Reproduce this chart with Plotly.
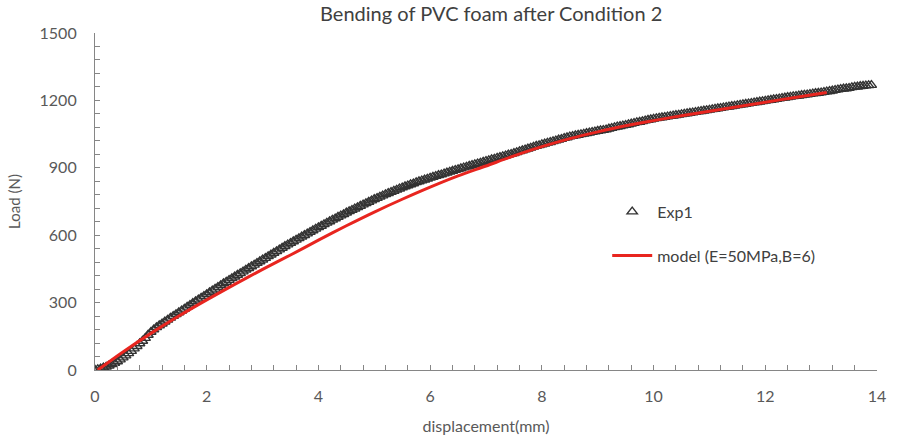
import plotly.graph_objects as go

exp_disp = [0.00, 0.05, 0.10, 0.15, 0.20, 0.25, 0.30, 0.35, 0.40, 0.45,
            0.50, 0.55, 0.60, 0.65, 0.70, 0.75, 0.80, 0.85, 0.90, 0.95,
            1.00, 1.05, 1.10, 1.15, 1.20, 1.25, 1.30, 1.35, 1.40, 1.45,
            1.50, 1.55, 1.60, 1.65, 1.70, 1.75, 1.80, 1.85, 1.90, 1.95,
            2.00, 2.05, 2.10, 2.15, 2.20, 2.25, 2.30, 2.35, 2.40, 2.45,
            2.50, 2.55, 2.60, 2.65, 2.70, 2.75, 2.80, 2.85, 2.90, 2.95,
            3.00, 3.05, 3.10, 3.15, 3.20, 3.25, 3.30, 3.35, 3.40, 3.45,
            3.50, 3.55, 3.60, 3.65, 3.70, 3.75, 3.80, 3.85, 3.90, 3.95,
            4.00, 4.05, 4.10, 4.15, 4.20, 4.25, 4.30, 4.35, 4.40, 4.45,
            4.50, 4.55, 4.60, 4.65, 4.70, 4.75, 4.80, 4.85, 4.90, 4.95,
            5.00, 5.05, 5.10, 5.15, 5.20, 5.25, 5.30, 5.35, 5.40, 5.45,
            5.50, 5.55, 5.60, 5.65, 5.70, 5.75, 5.80, 5.85, 5.90, 5.95,
            6.00, 6.05, 6.10, 6.15, 6.20, 6.25, 6.30, 6.35, 6.40, 6.45,
            6.50, 6.55, 6.60, 6.65, 6.70, 6.75, 6.80, 6.85, 6.90, 6.95,
            7.00, 7.05, 7.10, 7.15, 7.20, 7.25, 7.30, 7.35, 7.40, 7.45,
            7.50, 7.55, 7.60, 7.65, 7.70, 7.75, 7.80, 7.85, 7.90, 7.95,
            8.00, 8.05, 8.10, 8.15, 8.20, 8.25, 8.30, 8.35, 8.40, 8.45,
            8.50, 8.55, 8.60, 8.65, 8.70, 8.75, 8.80, 8.85, 8.90, 8.95,
            9.00, 9.05, 9.10, 9.15, 9.20, 9.25, 9.30, 9.35, 9.40, 9.45,
            9.50, 9.55, 9.60, 9.65, 9.70, 9.75, 9.80, 9.85, 9.90, 9.95,
            10.00, 10.05, 10.10, 10.15, 10.20, 10.25, 10.30, 10.35, 10.40, 10.45,
            10.50, 10.55, 10.60, 10.65, 10.70, 10.75, 10.80, 10.85, 10.90, 10.95,
            11.00, 11.05, 11.10, 11.15, 11.20, 11.25, 11.30, 11.35, 11.40, 11.45,
            11.50, 11.55, 11.60, 11.65, 11.70, 11.75, 11.80, 11.85, 11.90, 11.95,
            12.00, 12.05, 12.10, 12.15, 12.20, 12.25, 12.30, 12.35, 12.40, 12.45,
            12.50, 12.55, 12.60, 12.65, 12.70, 12.75, 12.80, 12.85, 12.90, 12.95,
            13.00, 13.05, 13.10, 13.15, 13.20, 13.25, 13.30, 13.35, 13.40, 13.45,
            13.50, 13.55, 13.60, 13.65, 13.70, 13.75, 13.80, 13.85, 13.90]
exp_load = [0, 3, 6, 10, 14, 19, 25, 31, 38, 46,
            55, 64, 74, 84, 95, 106, 118, 129, 142, 156,
            169, 180, 190, 198, 206, 215, 223, 232, 240, 248,
            256, 264, 272, 281, 289, 297, 305, 313, 321, 329,
            337, 345, 353, 361, 369, 377, 385, 392, 400, 408,
            415, 423, 430, 438, 446, 453, 461, 468, 476, 483,
            491, 498, 506, 513, 521, 528, 536, 543, 551, 558,
            565, 572, 579, 586, 593, 600, 607, 614, 621, 628,
            635, 641, 648, 655, 661, 668, 674, 681, 687, 693,
            700, 706, 712, 718, 724, 730, 736, 742, 748, 754,
            760, 765, 771, 776, 782, 787, 792, 797, 802, 807,
            812, 817, 821, 826, 830, 835, 839, 843, 847, 851,
            855, 859, 863, 867, 870, 874, 878, 882, 886, 890,
            893, 897, 901, 904, 908, 912, 915, 919, 922, 926,
            930, 933, 937, 940, 944, 947, 951, 954, 958, 961,
            965, 969, 973, 977, 981, 985, 989, 993, 997, 1000,
            1004, 1007, 1011, 1014, 1018, 1021, 1025, 1028, 1032, 1035,
            1039, 1041, 1044, 1046, 1049, 1051, 1054, 1056, 1059, 1061,
            1064, 1066, 1068, 1070, 1074, 1077, 1080, 1083, 1085, 1088,
            1090, 1093, 1096, 1099, 1102, 1104, 1107, 1110, 1113, 1115,
            1118, 1120, 1122, 1124, 1126, 1128, 1130, 1132, 1134, 1136,
            1138, 1140, 1142, 1144, 1146, 1148, 1150, 1152, 1154, 1156,
            1158, 1160, 1162, 1164, 1166, 1168, 1170, 1172, 1174, 1176,
            1178, 1180, 1182, 1184, 1186, 1188, 1190, 1192, 1194, 1196,
            1198, 1200, 1202, 1204, 1206, 1208, 1210, 1212, 1214, 1216,
            1218, 1219, 1221, 1223, 1225, 1226, 1228, 1230, 1232, 1233,
            1235, 1237, 1239, 1241, 1243, 1246, 1248, 1250, 1252, 1253,
            1255, 1258, 1260, 1261, 1263, 1264, 1266, 1267, 1268]

model_disp = [0.05, 0.5, 1.0, 1.5, 2.0, 2.5, 3.0, 3.5, 4.0, 4.5, 5.0, 5.5, 6.0,
              6.5, 7.0, 7.5, 8.0, 8.5, 9.0, 9.5, 10.0, 10.5, 11.0, 11.5, 12.0,
              12.5, 13.1]
model_load = [0, 80, 163, 240, 312, 381, 448, 512, 578, 642, 703, 760, 814,
              864, 908, 953, 994, 1030, 1060, 1087, 1110, 1132, 1152, 1172, 1192,
              1212, 1235]

title_text = "Bending of PVC foam after Condition 2"
x_title = "displacement(mm)"
y_title = "Load (N)"
exp_name = "Exp1"
model_name = "model (E=50MPa,B=6)"

FONT = "Lato, Open Sans, sans-serif"
AXIS_COLOR = "#868686"
TEXT_COLOR = "#595959"

fig = go.Figure()
fig.add_trace(go.Scatter(
    x=exp_disp, y=exp_load, mode="markers", name=exp_name, legendgroup="exp",
    marker=dict(symbol="triangle-up-open", size=9, color="#333333",
                line=dict(width=1.4, color="#333333")),
))
fig.add_trace(go.Scatter(
    x=model_disp, y=model_load, mode="lines", name=model_name, legendgroup="model",
    line=dict(color="#e8251f", width=3, shape="spline", smoothing=0.8),
))

fig.update_layout(
    width=898, height=440,
    margin=dict(l=95, r=21, t=33, b=70, autoexpand=False),
    paper_bgcolor="white", plot_bgcolor="white",
    font=dict(family=FONT, color=TEXT_COLOR, size=16),
    title=dict(text=title_text, x=0.547, xanchor="center", y=0.985, yanchor="top",
               font=dict(size=20, color="#404040", family=FONT)),
    showlegend=True,
    legend=dict(x=0.655, y=0.52, xanchor="left", yanchor="top",
                bgcolor="rgba(0,0,0,0)", font=dict(size=16, color="#404040"),
                tracegroupgap=20, itemwidth=40),
)
fig.update_xaxes(
    range=[0, 14], dtick=2, tick0=0, automargin=False,
    showline=True, linecolor=AXIS_COLOR, linewidth=1.2,
    showgrid=False, zeroline=False,
    ticks="inside", ticklen=5, tickcolor=AXIS_COLOR,
    minor=dict(dtick=0.4, ticks="inside", ticklen=5, tickcolor=AXIS_COLOR, showgrid=False),
    tickfont=dict(size=16, color=TEXT_COLOR), ticklabelstandoff=12,
    title=dict(text=x_title, font=dict(size=16, color=TEXT_COLOR), standoff=16),
)
fig.update_yaxes(
    range=[0, 1500], dtick=300, tick0=0, automargin=False,
    showline=True, linecolor=AXIS_COLOR, linewidth=1.2,
    showgrid=False, zeroline=False,
    ticks="inside", ticklen=5, tickcolor=AXIS_COLOR,
    minor=dict(dtick=60, ticks="inside", ticklen=5, tickcolor=AXIS_COLOR, showgrid=False),
    tickfont=dict(size=16, color=TEXT_COLOR), ticklabelstandoff=14,
    title=dict(text=y_title, font=dict(size=15, color=TEXT_COLOR), standoff=15),
)

fig.write_html("out.html")
